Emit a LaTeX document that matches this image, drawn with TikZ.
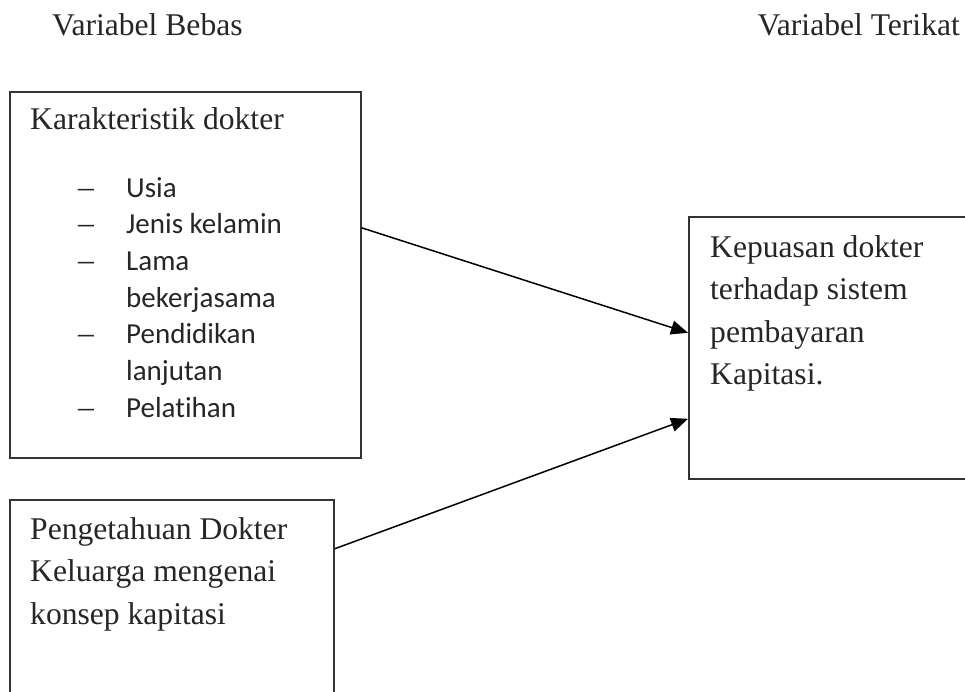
\documentclass[tikz,border=0pt]{standalone}
\usepackage{fontspec}
\setmainfont{Liberation Serif}
\newfontfamily\listfont[Ligatures=NoCommon]{Carlito}
\usetikzlibrary{arrows.meta}

\begin{document}
\begin{tikzpicture}[x=1pt, y=-1pt,
    kotak/.style={draw=black!80, line width=1.6pt, anchor=north west, inner sep=0pt},
    teks/.style={anchor=base west, inner sep=0pt, text=black!85, font=\fontsize{31.6}{43}\selectfont},
    butir/.style={teks, font=\listfont\fontsize{29}{36.7}\selectfont},
    panah/.style={line width=1.5pt, -{Triangle[length=17pt, width=14pt]}}]
  \useasboundingbox (0,0) rectangle (965,691);
  \clip (0,0) rectangle (965,691);
  % judul kolom
  \node[teks] (bebas) at (52,35) {Variabel Bebas};
  \node[teks, anchor=base east] (terikat) at (960,35) {Variabel Terikat};
  % kotak
  \node[kotak, minimum width=351pt, minimum height=366pt] (ciri) at (9,91) {};
  \node[kotak, minimum width=324pt, minimum height=240pt] (tahu) at (9,499) {};
  \node[kotak, minimum width=300pt, minimum height=262pt] (puas) at (688,216) {};
  % isi kotak karakteristik
  \node[teks] (judul) at (30,129) {Karakteristik dokter};
  \foreach \txt [count=\i] in {Usia, Jenis kelamin, Lama, bekerjasama, Pendidikan, lanjutan, Pelatihan}
    \node[butir] (item\i) at (126,{197+36.7*(\i-1)}) {\txt};
  \foreach \i in {1,2,3,5,7}
    \node[teks] (strip\i) at (78,{197+36.7*(\i-1)}) {--};
  % isi kotak pengetahuan
  \foreach \txt [count=\i] in {Pengetahuan Dokter, Keluarga mengenai, konsep kapitasi}
    \node[teks] (tahu\i) at (30,{539+42.5*(\i-1)}) {\txt};
  % isi kotak kepuasan
  \foreach \txt [count=\i] in {Kepuasan dokter, terhadap sistem, pembayaran, Kapitasi.}
    \node[teks] (puas\i) at (710,{257+42.5*(\i-1)}) {\txt};
  % panah
  \draw[panah] ([yshift=47pt]ciri.east) -- ([yshift=15pt]puas.west);
  \draw[panah] ([yshift=71pt]tahu.east) -- ([yshift=-71pt]puas.west);
\end{tikzpicture}
\end{document}
